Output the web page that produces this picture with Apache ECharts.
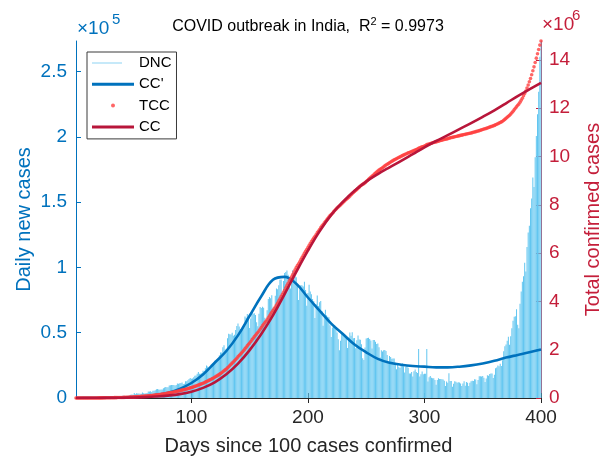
<!DOCTYPE html>
<html>
<head>
<meta charset="utf-8">
<script src="https://cdn.jsdelivr.net/npm/echarts@6/dist/echarts.min.js"></script>
<style>
html,body{margin:0;padding:0;background:#fff;}
#chart{width:611px;height:457px;}
</style>
</head>
<body>
<div id="chart"></div>
<script>
// Daily new cases (thousands), day 1..400
const dncThousands = [
0.01,0.02,0.01,0.03,0.03,0.05,0.08,0.08,0.1,0.09,0.08,0.1,0.15,0.16,0.1,0.23,0.3,
0.6,0.5,0.5,0.6,0.5,0.7,0.5,0.6,0.6,0.9,0.8,0.9,0.8,1.2,1.0,0.9,1.0,1.0,1.3,1.5,1.3,1.4,1.3,1.7,1.8,1.6,1.5,1.8,1.8,1.9,
2.4,2.6,2.5,3.9,2.9,3.6,3.5,3.4,3.3,3.3,4.2,3.6,3.5,3.7,3.9,4.9,5.0,5.2,4.6,5.6,5.6,6.0,6.7,6.8,6.5,6.4,6.6,6.6,7.5,8.0,8.4,
8.2,8.2,9.6,9.8,9.9,9.9,9.9,9.5,9.9,11.1,10.9,11.3,11.5,11.9,10.7,11.0,12.9,12.9,13.6,14.5,15.4,14.8,14.9,15.9,17.0,17.3,18.6,19.9,18.5,18.6,
19.1,20.9,20.9,22.7,24.9,24.2,22.3,22.8,25.6,26.5,27.1,28.6,28.7,28.5,29.4,32.7,34.9,34.8,38.9,40.4,37.1,37.7,45.7,49.3,48.9,48.7,49.9,47.7,48.5,52.1,55.1,
57.1,54.7,52.9,52.0,52.5,56.3,62.5,61.5,64.4,62.1,53.6,60.9,66.9,64.6,65.0,63.5,58.1,55.0,64.5,69.7,68.9,69.9,69.2,61.4,59.7,67.2,75.8,77.3,76.5,78.8,68.8,
69.9,78.4,83.9,83.3,86.4,90.6,90.8,75.8,89.7,95.7,96.6,97.6,94.4,92.1,83.8,90.1,97.9,96.4,93.3,92.6,86.9,75.1,83.3,86.5,86.1,85.4,89.0,82.8,70.6,80.5,
86.8,81.5,79.5,75.8,74.4,61.3,72.0,78.5,70.5,73.3,74.4,66.7,55.3,63.5,67.7,63.4,62.2,61.9,55.7,46.8,54.0,56.0,55.8,54.0,50.1,45.1,36.5,43.9,49.9,48.6,48.2,
46.9,45.2,38.3,46.2,50.2,47.6,50.4,45.7,45.9,38.1,44.3,47.9,44.9,44.7,41.1,30.5,29.2,38.6,45.6,45.9,46.2,45.2,44.1,37.9,44.4,44.4,43.1,41.3,41.8,38.8,
31.1,36.6,35.6,36.6,36.7,36.0,32.9,26.6,32.1,31.5,30.0,30.2,30.3,27.1,22.1,26.4,24.0,22.9,25.1,26.6,24.3,19.6,23.9,24.7,23.1,18.7,18.7,20.0,16.4,20.5,21.8,
20.0,19.1,37.5,16.5,18.1,20.3,18.1,18.6,18.6,37.5,12.6,15.9,16.9,15.6,15.1,15.2,13.8,10.1,13.8,15.2,14.5,14.5,14.3,14.2,13.2,9.1,12.7,11.7,18.9,13.1,13.0,
8.6,11.0,12.9,12.4,11.7,12.0,11.8,11.1,9.1,11.1,12.9,9.3,12.2,11.6,9.1,11.6,12.9,13.2,13.1,14.3,14.2,10.6,13.7,16.7,16.6,16.5,16.8,15.5,
12.3,15.0,17.4,17.0,18.3,18.7,18.7,15.4,17.9,22.8,23.3,24.9,24.4,26.3,24.5,28.9,35.9,39.7,40.9,43.8,46.9,40.7,47.3,53.5,59.1,62.3,62.7,68.0,56.2,53.5,72.3,
81.5,89.1,93.2,103.6,96.9,115.7,126.8,131.9,145.4,152.9,168.9,161.7,184.4,200.7,217.4,234.7,261.5,273.5
];

// Total confirmed cases (millions), day 1..400
const tccMillions = [
0.0001,0.0001,0.0001,0.0002,0.0002,0.0003,0.0003,0.0004,0.0005,0.0006,0.0007,0.0008,0.0009,0.0011,0.0012,0.0014,0.0017,
0.0023,0.0028,0.0033,0.0039,0.0044,0.0051,0.0056,0.0062,0.0068,0.0077,0.0085,0.0094,0.0102,0.0114,0.0124,0.0133,0.0143,0.0153,0.0166,0.0181,0.0194,0.0208,0.0221,0.0238,0.0256,0.0272,0.0287,0.0305,0.0323,0.0342,
0.0366,0.0392,0.0417,0.0456,0.0485,0.0521,0.0556,0.0590,0.0623,0.0656,0.0698,0.0734,0.0769,0.0806,0.0845,0.0894,0.0944,0.0996,0.1042,0.1098,0.1154,0.1214,0.1281,0.1349,0.1414,0.1478,0.1544,0.1610,0.1685,0.1765,0.1849,
0.1931,0.2013,0.2109,0.2207,0.2306,0.2405,0.2504,0.2599,0.2698,0.2809,0.2918,0.3031,0.3146,0.3265,0.3372,0.3482,0.3611,0.3740,0.3876,0.4021,0.4175,0.4323,0.4472,0.4631,0.4801,0.4974,0.5160,0.5359,0.5544,0.5730,
0.5921,0.6130,0.6339,0.6566,0.6815,0.7057,0.7280,0.7508,0.7764,0.8029,0.8300,0.8586,0.8873,0.9158,0.9452,0.9779,1.0128,1.0476,1.0865,1.1269,1.1640,1.2017,1.2474,1.2967,1.3456,1.3943,1.4442,1.4919,1.5404,1.5925,1.6476,
1.7047,1.7594,1.8123,1.8643,1.9168,1.9731,2.0356,2.0971,2.1615,2.2236,2.2772,2.3381,2.4050,2.4696,2.5346,2.5981,2.6562,2.7112,2.7757,2.8454,2.9143,2.9842,3.0534,3.1148,3.1745,3.2417,3.3175,3.3948,3.4713,3.5501,3.6189,
3.6888,3.7672,3.8511,3.9344,4.0208,4.1114,4.2022,4.2780,4.3677,4.4634,4.5600,4.6576,4.7520,4.8441,4.9279,5.0180,5.1159,5.2123,5.3056,5.3982,5.4851,5.5602,5.6435,5.7300,5.8161,5.9015,5.9905,6.0733,6.1439,6.2244,
6.3112,6.3927,6.4722,6.5480,6.6224,6.6837,6.7557,6.8342,6.9047,6.9780,7.0524,7.1191,7.1744,7.2379,7.3056,7.3690,7.4312,7.4931,7.5488,7.5956,7.6496,7.7056,7.7614,7.8154,7.8655,7.9106,7.9471,7.9910,8.0409,8.0895,8.1377,
8.1846,8.2298,8.2681,8.3143,8.3645,8.4121,8.4625,8.5082,8.5541,8.5922,8.6365,8.6844,8.7293,8.7740,8.8151,8.8456,8.8748,8.9134,8.9590,9.0049,9.0511,9.0963,9.1404,9.1783,9.2227,9.2671,9.3102,9.3515,9.3933,9.4321,
9.4632,9.4998,9.5354,9.5720,9.6087,9.6447,9.6776,9.7042,9.7363,9.7678,9.7978,9.8280,9.8583,9.8854,9.9075,9.9339,9.9579,9.9808,10.0059,10.0325,10.0568,10.0764,10.1003,10.1250,10.1481,10.1668,10.1855,10.2055,10.2219,10.2424,10.2642,
10.2842,10.3033,10.3408,10.3573,10.3754,10.3957,10.4138,10.4324,10.4510,10.4885,10.5011,10.5170,10.5339,10.5495,10.5646,10.5798,10.5936,10.6037,10.6175,10.6327,10.6472,10.6617,10.6760,10.6902,10.7034,10.7125,10.7252,10.7369,10.7558,10.7689,10.7819,
10.7905,10.8015,10.8144,10.8268,10.8385,10.8505,10.8623,10.8734,10.8825,10.8936,10.9065,10.9158,10.9280,10.9396,10.9487,10.9603,10.9732,10.9864,10.9995,11.0138,11.0280,11.0386,11.0523,11.0690,11.0856,11.1021,11.1189,11.1344,
11.1467,11.1617,11.1791,11.1961,11.2144,11.2331,11.2518,11.2672,11.2851,11.3079,11.3312,11.3561,11.3805,11.4068,11.4313,11.4602,11.4961,11.5358,11.5767,11.6205,11.6674,11.7081,11.7554,11.8089,11.8680,11.9303,11.9930,12.0610,12.1172,12.1707,12.2430,
12.33,12.41,12.51,12.61,12.71,12.83,12.96,13.09,13.23,13.38,13.55,13.71,13.89,14.07,14.25,14.43,14.61,14.78
];

// Fitted curves, sampled every 10 days
const fitDays = [1,10,20,30,40,50,60,70,80,90,100,110,120,130,140,150,160,170,180,190,200,210,220,230,240,250,260,270,280,290,300,310,320,330,340,350,360,370,380,390,400];
const ccPrimeThousands = [0.05,0.1,0.2,0.3,0.5,0.8,1.4,2.4,4,7,11.5,18,27,36,48,63,78,90.5,92.8,87.5,77,67,57,49,41,35,30,27,25.5,24.5,24,23.5,23.5,24,25,26.5,28.5,31,33,35,37.2];
const ccMillions = [0,0.001,0.003,0.006,0.011,0.02,0.035,0.06,0.1,0.16,0.26,0.42,0.65,0.98,1.42,1.98,2.65,3.42,4.3,5.22,6.1,6.9,7.58,8.12,8.58,8.96,9.27,9.55,9.82,10.1,10.38,10.64,10.88,11.13,11.38,11.64,11.91,12.2,12.5,12.78,13.05];

const xTicks = [100,200,300,400];
const leftTickValues = [0,50,100,150,200,250];
const leftTicksE5 = ['0','0.5','1','1.5','2','2.5'];

const BLUE = '#0072BD';
const CRIMSON = '#C41E3A';
const AXISK = '#262626';
const FONT = 'Liberation Sans, Arial, Helvetica, sans-serif';

const dncData = dncThousands.map((v, i) => [i + 1, v]);
const tccData = tccMillions.map((v, i) => [i + 1, v]);
const ccpData = fitDays.map((d, i) => [d, ccPrimeThousands[i]]);
const ccData = fitDays.map((d, i) => [d, ccMillions[i]]);

const chart = echarts.init(document.getElementById('chart'), null, {renderer: 'canvas'});
chart.setOption({
  animation: false,
  backgroundColor: '#fff',
  title: {
    text: 'COVID outbreak in India,  R{sup|2} = 0.9973',
    left: 308, top: 16, textAlign: 'center', padding: 0,
    textStyle: {
      fontFamily: FONT, fontSize: 16, fontWeight: 'normal', color: '#000', lineHeight: 21,
      rich: { sup: {fontFamily: FONT, fontSize: 11, lineHeight: 11, verticalAlign: 'top', color: '#000'} }
    }
  },
  grid: {left: 76, right: 70, top: 41, bottom: 59, containLabel: false, outerBoundsMode: 'none'},
  legend: {
    orient: 'vertical', left: 87, top: 52,
    padding: [2, 5, 3, 5],
    itemWidth: 42, itemHeight: 4, itemGap: 3.3,
    backgroundColor: '#fff', borderColor: '#3a3a3a', borderWidth: 1,
    textStyle: {fontFamily: FONT, fontSize: 15, color: '#000', lineHeight: 18},
    data: [
      {name: 'DNC', icon: 'path://M0,0H30V1H0Z M42,0', itemStyle: {color: '#8ED3F4', borderWidth: 0}},
      {name: "CC'", icon: 'path://M0,0H42V3H0Z', itemStyle: {color: BLUE, borderWidth: 0}},
      {name: 'TCC', icon: 'circle', itemStyle: {color: '#FF4040', borderWidth: 0}},
      {name: 'CC', icon: 'path://M0,0H42V3H0Z', itemStyle: {color: '#B8163A', borderWidth: 0}}
    ]
  },
  xAxis: [{
    type: 'value', min: 1, max: 400, position: 'bottom',
    name: 'Days since 100 cases confirmed', nameLocation: 'middle', nameGap: 38, nameMoveOverlap: false,
    nameTextStyle: {fontFamily: FONT, fontSize: 20, color: AXISK},
    axisLine: {show: true, lineStyle: {color: AXISK, width: 1}},
    axisTick: {show: true, inside: true, length: 5, customValues: xTicks, lineStyle: {color: AXISK}},
    axisLabel: {show: true, customValues: xTicks, margin: 10, fontFamily: FONT, fontSize: 19, color: AXISK},
    splitLine: {show: false}
  }, {
    type: 'value', min: 1, max: 400, position: 'top',
    axisLine: {show: true, lineStyle: {color: AXISK, width: 1}},
    axisTick: {show: true, inside: true, length: 5, customValues: xTicks, lineStyle: {color: AXISK}},
    axisLabel: {show: false},
    splitLine: {show: false}
  }],
  yAxis: [{
    type: 'value', min: 0, max: 273.5, position: 'left',
    name: 'Daily new cases', nameLocation: 'middle', nameGap: 42, nameRotate: 90, nameMoveOverlap: false,
    nameTextStyle: {fontFamily: FONT, fontSize: 20, color: BLUE},
    axisLine: {show: true, lineStyle: {color: BLUE, width: 1}},
    axisTick: {show: true, inside: true, length: 5, customValues: leftTickValues, lineStyle: {color: BLUE}},
    axisLabel: {margin: 9, fontFamily: FONT, fontSize: 19, color: BLUE, customValues: leftTickValues,
      formatter: v => leftTicksE5[leftTickValues.indexOf(Math.round(v))] ?? ''},
    splitLine: {show: false}
  }, {
    type: 'value', min: 0, max: 14.78, interval: 2, position: 'right',
    name: 'Total confirmed cases', nameLocation: 'middle', nameGap: 42, nameRotate: 90, nameMoveOverlap: false,
    nameTextStyle: {fontFamily: FONT, fontSize: 20, color: CRIMSON},
    axisLine: {show: true, lineStyle: {color: CRIMSON, width: 1}},
    axisTick: {show: true, inside: true, length: 5, lineStyle: {color: CRIMSON}},
    axisLabel: {margin: 8, fontFamily: FONT, fontSize: 19, color: CRIMSON, showMaxLabel: false},
    splitLine: {show: false}
  }],
  series: [
    {name: 'DNC', type: 'bar', xAxisIndex: 0, yAxisIndex: 0, data: dncData, barWidth: 1,
     itemStyle: {color: '#62C6F0'}, z: 1, silent: true},
    {name: "CC'", type: 'line', xAxisIndex: 0, yAxisIndex: 0, data: ccpData, smooth: 0.4,
     showSymbol: false, symbol: 'none', lineStyle: {color: BLUE, width: 2.6}, itemStyle: {color: BLUE}, z: 2},
    {name: 'TCC', type: 'scatter', xAxisIndex: 0, yAxisIndex: 1, data: tccData, symbolSize: 3.6,
     itemStyle: {color: '#FF4040'}, z: 3},
    {name: 'CC', type: 'line', xAxisIndex: 0, yAxisIndex: 1, data: ccData, smooth: 0.4,
     showSymbol: false, symbol: 'none', lineStyle: {color: '#B8163A', width: 2.6}, itemStyle: {color: '#B8163A'}, z: 4}
  ],
  graphic: [
    {type: 'text', left: 77, top: 19, style: {text: '×10', fontFamily: FONT, fontSize: 19, fill: BLUE}},
    {type: 'text', left: 112, top: 12, style: {text: '5', fontFamily: FONT, fontSize: 15, fill: BLUE}},
    {type: 'text', left: 542, top: 15, style: {text: '×10', fontFamily: FONT, fontSize: 19, fill: CRIMSON}},
    {type: 'text', left: 572, top: 8, style: {text: '6', fontFamily: FONT, fontSize: 15, fill: CRIMSON}}
  ]
});
</script>
</body>
</html>
